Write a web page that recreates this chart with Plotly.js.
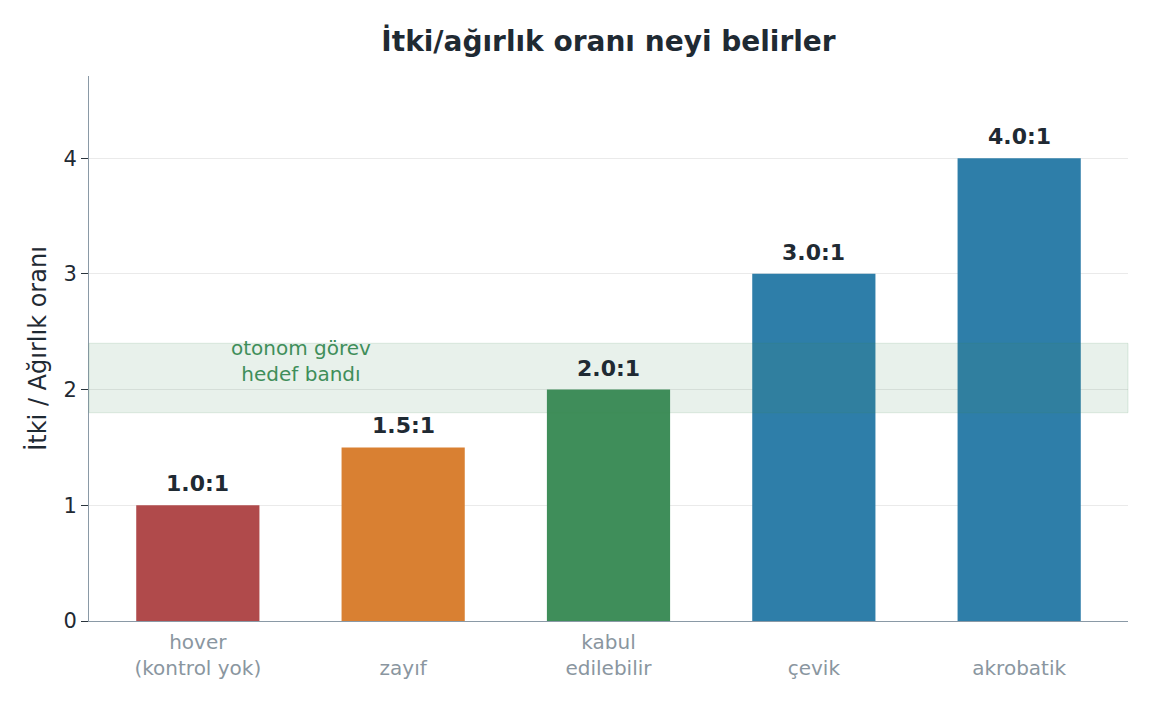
<!DOCTYPE html>
<html>
<head>
<meta charset="utf-8">
<script src="https://cdn.plot.ly/plotly-3.0.1.min.js"></script>
<style>
  html, body {margin: 0; padding: 0; background: #fff;}
  #chart {width: 1152px; height: 704px;}
</style>
</head>
<body>
<div id="chart"></div>
<script>
const categories = ['hover<br>(kontrol yok)', 'zayıf', 'kabul<br>edilebilir', 'çevik', 'akrobatik'];
const ratios = [1.0, 1.5, 2.0, 3.0, 4.0];
const ratioLabels = ['1.0:1', '1.5:1', '2.0:1', '3.0:1', '4.0:1'];
const barColors = ['#b04a4b', '#d98032', '#3f8e5a', '#2e7ea9', '#2e7ea9'];
const bandLow = 1.8;
const bandHigh = 2.4;

const font = 'DejaVu Sans, sans-serif';
const dark = '#1f2a33';

// single-line labels sit on the second line, like the two-line ones
const tickText = categories.map(c => c.includes('<br>') ? c : ' <br>' + c);

const trace = {
    type: 'bar',
    x: categories,
    y: ratios,
    marker: {color: barColors, line: {width: 0}},
    width: 0.6,
    hoverinfo: 'skip'
};

// value labels above each bar
const valueNotes = categories.map((c, i) => ({
    x: c, y: ratios[i], xref: 'x', yref: 'y',
    text: '<b>' + ratioLabels[i] + '</b>',
    showarrow: false, yanchor: 'bottom', yshift: 7,
    font: {family: font, size: 22, color: dark}
}));

const layout = {
    width: 1152,
    height: 704,
    margin: {t: 76, l: 89, r: 24, b: 83},
    paper_bgcolor: '#fff',
    plot_bgcolor: '#fff',
    showlegend: false,
    title: {
        text: '<b>İtki/ağırlık oranı neyi belirler</b>',
        font: {family: font, size: 28, color: dark},
        xref: 'paper', x: 0.5, xanchor: 'center', yref: 'container', y: 0.942, yanchor: 'middle'
    },
    xaxis: {
        range: [-0.53, 4.53],
        tickvals: categories, ticktext: tickText,
        showline: true, linecolor: '#8a99a6', linewidth: 1,
        ticks: '', showgrid: false, zeroline: false,
        ticklabelstandoff: 3,
        tickfont: {family: font, size: 20, color: '#8a96a0'}
    },
    yaxis: {
        range: [0, 4.71],
        tickvals: [0, 1, 2, 3, 4],
        showline: true, linecolor: '#8a99a6', linewidth: 1,
        ticks: 'outside', ticklen: 7, tickcolor: '#2a343c',
        showgrid: true, gridcolor: '#eaeaea', gridwidth: 1,
        zeroline: false,
        tickfont: {family: font, size: 21, color: dark},
        title: {text: 'İtki / Ağırlık oranı', font: {family: font, size: 24, color: dark}, standoff: 10}
    },
    shapes: [{
        type: 'rect', xref: 'paper', yref: 'y',
        x0: 0, x1: 1, y0: bandLow, y1: bandHigh,
        fillcolor: 'rgba(63,142,90,0.12)',
        line: {color: 'rgba(63,142,90,0.15)', width: 1},
        layer: 'above'
    }],
    annotations: [{
        x: 0.5, y: 2.25, xref: 'x', yref: 'y',
        text: 'otonom görev<br>hedef bandı',
        showarrow: false,
        font: {family: font, size: 20, color: '#3f8e5a'},
        align: 'center'
    }].concat(valueNotes)
};

Plotly.newPlot('chart', [trace], layout, {staticPlot: true, displayModeBar: false});
</script>
</body>
</html>
